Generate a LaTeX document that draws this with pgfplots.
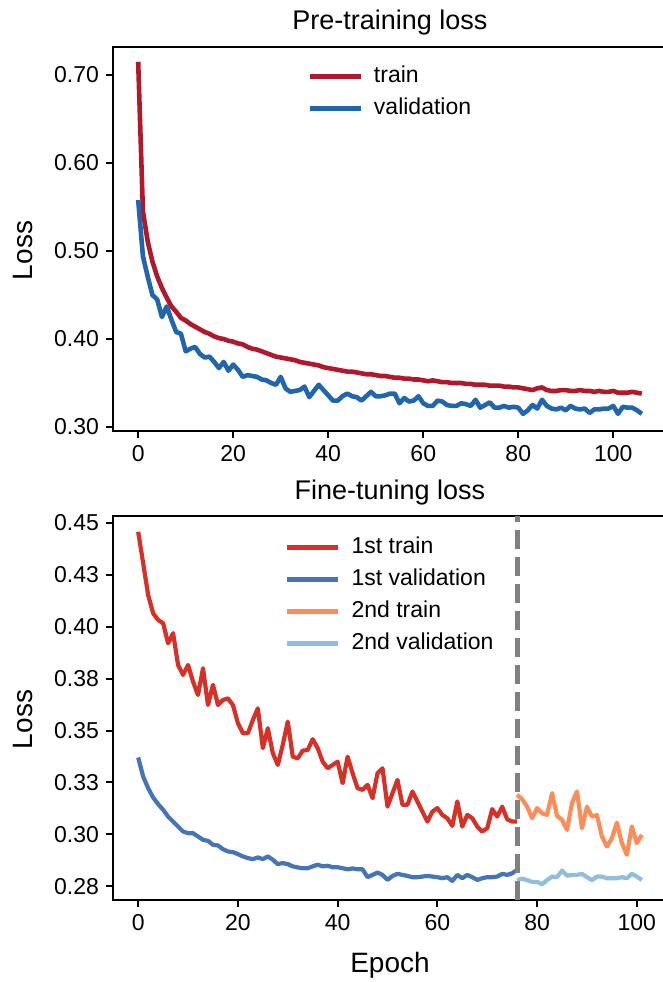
\documentclass[border=0pt]{standalone}
\usepackage{fontspec}
\setmainfont{Liberation Sans}
\usepackage{pgfplots}
\pgfplotsset{compat=1.18}

\definecolor{ptrain}{HTML}{B2182B}
\definecolor{pval}{HTML}{2166AC}
\definecolor{ftrainA}{HTML}{D73027}
\definecolor{fvalA}{HTML}{4575B4}
\definecolor{ftrainB}{HTML}{FC8D59}
\definecolor{fvalB}{HTML}{91BFDB}
\definecolor{vline}{HTML}{808080}

\newcommand\ft{\fontsize{11.5}{13.8}\selectfont}
\newcommand\titfont{\fontsize{13.5}{16.2}\selectfont}
\newcommand\lt{\fontsize{14}{16.8}\selectfont}

\pgfplotsset{
  lossaxis/.style={
    scale only axis, width=277pt, height=192pt,
    axis line style={line width=1.1pt},
    tick align=outside, major tick length=3.5pt,
    xtick pos=bottom, ytick pos=left,
    every tick/.style={black, line width=1pt},
    xtick={0,20,40,60,80,100},
    scaled y ticks=false,
    tick label style={font=\ft},
    /pgf/number format/assume math mode=true,
    every axis title shift=0pt,
    every axis title/.style={at={(0.5,1)}, anchor=base, font=\titfont},
    ylabel={Loss},
    every axis y label/.style={at={(axis description cs:-0.1462,0.47)}, rotate=90, anchor=base, font=\lt},
    legend style={draw=none, fill=none, at={(axis description cs:0,1)}, anchor=north west,
      inner sep=0pt, row sep=5pt, column sep=5.5pt, font=\ft,
      nodes={inner sep=0pt, text height=8.5pt, text depth=2.5pt}},
    legend cell align=left,
    legend image code/.code={\draw[#1, line cap=butt] (0pt,0pt) -- (25.5pt,0pt);},
    every axis plot/.append style={line join=round},
  }
}

\begin{document}
\begin{tikzpicture}
% ---------------- pre-training ----------------
\begin{axis}[lossaxis,
    at={(0,234.5pt)},
    title={\titfont Pre-training loss}, title style={yshift=8.75pt},
    xmin=-5.3, xmax=111.3,
    ymin=0.2955, ymax=0.7318,
    ytick={0.3,0.4,0.5,0.6,0.7},
    yticklabel style={/pgf/number format/.cd, fixed, fixed zerofill, precision=2},
    legend style={xshift=97pt, yshift=-9pt},
  ]
  \addplot[ptrain, line width=2.3pt] coordinates {
    (0,0.715) (1,0.545) (2,0.511) (3,0.488) (4,0.471) (5,0.458) (6,0.447) (7,0.437)
    (8,0.431) (9,0.424) (10,0.421) (11,0.417) (12,0.414) (13,0.411) (14,0.408) (15,0.406)
    (16,0.403) (17,0.401) (18,0.400) (19,0.398) (20,0.397) (21,0.395) (22,0.394) (23,0.391)
    (24,0.389) (25,0.388) (26,0.386) (27,0.384) (28,0.382) (29,0.380) (30,0.379) (31,0.378)
    (32,0.377) (33,0.376) (34,0.374) (35,0.373) (36,0.372) (37,0.371) (38,0.370) (39,0.368)
    (40,0.367) (41,0.366) (42,0.365) (43,0.364) (44,0.363) (45,0.363) (46,0.362) (47,0.361)
    (48,0.360) (49,0.360) (50,0.359) (51,0.358) (52,0.358) (53,0.357) (54,0.356) (55,0.356)
    (56,0.355) (57,0.355) (58,0.354) (59,0.354) (60,0.353) (61,0.352) (62,0.353) (63,0.352)
    (64,0.351) (65,0.351) (66,0.350) (67,0.350) (68,0.350) (69,0.349) (70,0.349) (71,0.348)
    (72,0.348) (73,0.348) (74,0.347) (75,0.347) (76,0.347) (77,0.346) (78,0.346) (79,0.345)
    (80,0.345) (81,0.344) (82,0.343) (83,0.342) (84,0.344) (85,0.345) (86,0.342) (87,0.341)
    (88,0.341) (89,0.342) (90,0.342) (91,0.341) (92,0.341) (93,0.342) (94,0.341) (95,0.341)
    (96,0.340) (97,0.341) (98,0.340) (99,0.340) (100,0.341) (101,0.339) (102,0.339) (103,0.339)
    (104,0.340) (105,0.339) (106,0.338)
  };
  \addlegendentry{train}
  \addplot[pval, line width=2.3pt] coordinates {
    (0,0.558) (1,0.494) (2,0.471) (3,0.450) (4,0.445) (5,0.425) (6,0.437) (7,0.422)
    (8,0.408) (9,0.406) (10,0.386) (11,0.389) (12,0.391) (13,0.383) (14,0.379) (15,0.380)
    (16,0.374) (17,0.367) (18,0.374) (19,0.364) (20,0.371) (21,0.365) (22,0.357) (23,0.359)
    (24,0.358) (25,0.357) (26,0.354) (27,0.353) (28,0.350) (29,0.348) (30,0.357) (31,0.344)
    (32,0.340) (33,0.341) (34,0.342) (35,0.346) (36,0.334) (37,0.341) (38,0.348) (39,0.342)
    (40,0.336) (41,0.330) (42,0.330) (43,0.335) (44,0.338) (45,0.335) (46,0.334) (47,0.330)
    (48,0.335) (49,0.340) (50,0.335) (51,0.335) (52,0.336) (53,0.338) (54,0.338) (55,0.327)
    (56,0.333) (57,0.329) (58,0.330) (59,0.335) (60,0.327) (61,0.324) (62,0.324) (63,0.330)
    (64,0.329) (65,0.325) (66,0.324) (67,0.324) (68,0.327) (69,0.326) (70,0.324) (71,0.331)
    (72,0.322) (73,0.325) (74,0.328) (75,0.322) (76,0.322) (77,0.324) (78,0.322) (79,0.323)
    (80,0.322) (81,0.315) (82,0.319) (83,0.325) (84,0.321) (85,0.331) (86,0.324) (87,0.321)
    (88,0.320) (89,0.322) (90,0.319) (91,0.324) (92,0.321) (93,0.320) (94,0.321) (95,0.316)
    (96,0.320) (97,0.320) (98,0.321) (99,0.321) (100,0.324) (101,0.315) (102,0.323) (103,0.322)
    (104,0.322) (105,0.319) (106,0.315)
  };
  \addlegendentry{validation}
\end{axis}

% ---------------- fine-tuning ----------------
\begin{axis}[lossaxis,
    at={(0,0)},
    title={\titfont Fine-tuning loss}, title style={yshift=8.25pt},
    xlabel={Epoch},
    every axis x label/.style={at={(axis description cs:0.5,0)}, anchor=base, yshift=-36pt, font=\lt},
    xmin=-5.05, xmax=106.05,
    ymin=0.2683, ymax=0.4534,
    ytick={0.275,0.3,0.325,0.35,0.375,0.4,0.425,0.45},
    yticklabels={0.28,0.30,0.33,0.35,0.38,0.40,0.43,0.45},
    legend style={xshift=86pt, yshift=-10pt},
  ]
  \addplot[ftrainA, line width=2.1pt] coordinates {
    (0,0.4458) (1,0.4306) (2,0.4153) (3,0.4065) (4,0.4033) (5,0.4017) (6,0.3920) (7,0.3969)
    (8,0.3816) (9,0.3768) (10,0.3816) (11,0.3736) (12,0.3671) (13,0.3800) (14,0.3623) (15,0.3720)
    (16,0.3623) (17,0.3647) (18,0.3655) (19,0.3623) (20,0.3535) (21,0.3487) (22,0.3487) (23,0.3551)
    (24,0.3607) (25,0.3415) (26,0.3511) (27,0.3391) (28,0.3334) (29,0.3431) (30,0.3543) (31,0.3374)
    (32,0.3366) (33,0.3403) (34,0.3406) (35,0.3458) (36,0.3415) (37,0.3350) (38,0.3318) (39,0.3334)
    (40,0.3350) (41,0.3246) (42,0.3374) (43,0.3294) (44,0.3222) (45,0.3214) (46,0.3238) (47,0.3174)
    (48,0.3294) (49,0.3318) (50,0.3133) (51,0.3198) (52,0.3262) (53,0.3142) (54,0.3142) (55,0.3206)
    (56,0.3158) (57,0.3109) (58,0.3061) (59,0.3109) (60,0.3126) (61,0.3093) (62,0.3077) (63,0.3040)
    (64,0.3158) (65,0.3037) (66,0.3093) (67,0.3077) (68,0.3037) (69,0.3013) (70,0.3029) (71,0.3121)
    (72,0.3085) (73,0.3133) (74,0.3072) (75,0.3061) (76,0.3061)
  };
  \addlegendentry{1st train}
  \addplot[fvalA, line width=2.1pt] coordinates {
    (0,0.3370) (1,0.3278) (2,0.3222) (3,0.3177) (4,0.3145) (5,0.3118) (6,0.3085) (7,0.3061)
    (8,0.3037) (9,0.3013) (10,0.3005) (11,0.3005) (12,0.2989) (13,0.2973) (14,0.2968) (15,0.2949)
    (16,0.2946) (17,0.2928) (18,0.2917) (19,0.2914) (20,0.2904) (21,0.2893) (22,0.2885) (23,0.2880)
    (24,0.2888) (25,0.2880) (26,0.2893) (27,0.2877) (28,0.2856) (29,0.2861) (30,0.2856) (31,0.2845)
    (32,0.2840) (33,0.2836) (34,0.2836) (35,0.2845) (36,0.2853) (37,0.2845) (38,0.2848) (39,0.2841)
    (40,0.2841) (41,0.2836) (42,0.2831) (43,0.2835) (44,0.2831) (45,0.2831) (46,0.2793) (47,0.2804)
    (48,0.2815) (49,0.2804) (50,0.2780) (51,0.2799) (52,0.2809) (53,0.2804) (54,0.2799) (55,0.2793)
    (56,0.2793) (57,0.2796) (58,0.2799) (59,0.2796) (60,0.2793) (61,0.2788) (62,0.2793) (63,0.2775)
    (64,0.2804) (65,0.2788) (66,0.2804) (67,0.2793) (68,0.2780) (69,0.2788) (70,0.2793) (71,0.2793)
    (72,0.2796) (73,0.2809) (74,0.2804) (75,0.2812) (76,0.2828)
  };
  \addlegendentry{1st validation}
  \addplot[ftrainB, line width=2.1pt] coordinates {
    (76,0.3190) (77,0.3169) (78,0.3133) (79,0.3077) (80,0.3126) (81,0.3101) (82,0.3093) (83,0.3198)
    (84,0.3088) (85,0.3069) (86,0.3021) (87,0.3150) (88,0.3206) (89,0.3029) (90,0.3133) (91,0.3085)
    (92,0.3093) (93,0.2989) (94,0.2941) (95,0.2981) (96,0.3056) (97,0.2957) (98,0.2901) (99,0.3037)
    (100,0.2957) (101,0.2997)
  };
  \addlegendentry{2nd train}
  \addplot[fvalB, line width=2.1pt] coordinates {
    (76,0.2779) (77,0.2786) (78,0.2779) (79,0.2770) (80,0.2770) (81,0.2759) (82,0.2779) (83,0.2796)
    (84,0.2793) (85,0.2825) (86,0.2800) (87,0.2804) (88,0.2804) (89,0.2809) (90,0.2793) (91,0.2779)
    (92,0.2796) (93,0.2796) (94,0.2788) (95,0.2788) (96,0.2788) (97,0.2793) (98,0.2788) (99,0.2809)
    (100,0.2796) (101,0.2779)
  };
  \addlegendentry{2nd validation}
  \addplot[vline, line width=2.5pt, dash pattern=on 9.5pt off 4pt, forget plot]
    coordinates {(76,0.2683) (76,0.4534)};
\end{axis}
\pgfresetboundingbox
\useasboundingbox (-56.5pt,-41pt) rectangle (275pt,450pt);
\end{tikzpicture}
\end{document}
